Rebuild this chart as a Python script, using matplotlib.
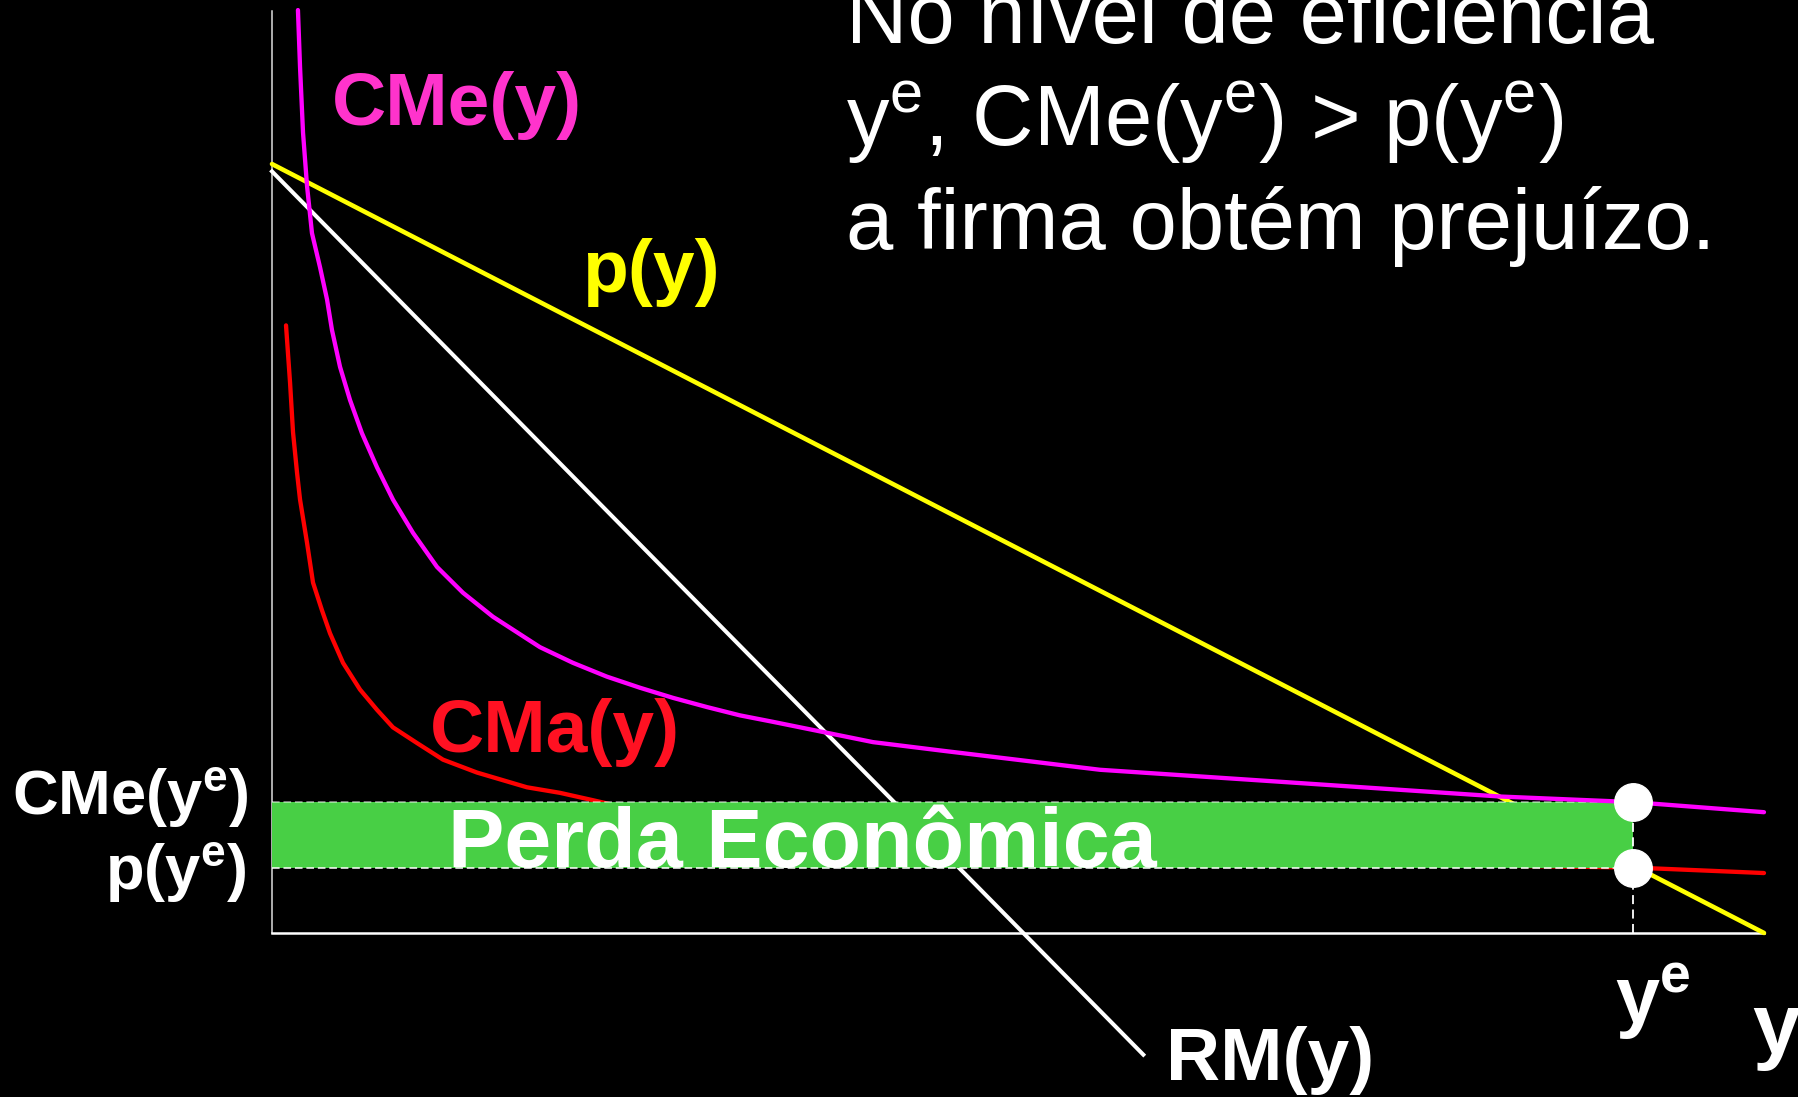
import matplotlib.pyplot as plt

plt.rcParams['font.family'] = ['Liberation Sans', 'DejaVu Sans']
plt.rcParams['mathtext.fontset'] = 'custom'
plt.rcParams['mathtext.rm'] = 'Liberation Sans'
plt.rcParams['mathtext.bf'] = 'Liberation Sans:bold'

# custo medio CMe(y)
cme_x = [1.74, 1.88, 2.08, 2.35, 2.68, 3.22, 3.69, 4.02, 4.56, 5.23, 6.03, 7.04,
         8.11, 9.45, 11.06, 12.8, 14.81, 17.96, 20.17, 22.45, 24.66, 26.88, 29.16,
         31.37, 33.58, 36.93, 40.28, 44.77, 55.5, 68.5, 82.31, 91.15, 100.0]
cme_y = [100.1, 93.9, 86.8, 81.0, 75.9, 72.2, 68.7, 65.4, 61.4, 57.8, 54.2, 50.5,
         47.0, 43.4, 39.7, 36.9, 34.3, 31.0, 29.3, 27.8, 26.6, 25.5, 24.5,
         23.6, 22.9, 21.8, 20.7, 19.8, 17.7, 16.3, 14.8, 14.2, 13.1]

# custo marginal CMa(y)
cma_x = [0.94, 1.21, 1.41, 1.68, 1.88, 2.35, 2.75, 3.35, 3.89, 4.76, 5.9, 7.04,
         8.11, 9.72, 11.46, 13.74, 17.09, 19.3, 21.51, 28.7, 42.1, 55.5, 68.9,
         82.3, 91.2, 100.0]
cma_y = [65.9, 59.7, 54.3, 49.9, 47.0, 42.3, 38.0, 35.0, 32.5, 29.3, 26.4, 24.2,
         22.3, 20.6, 18.8, 17.4, 15.8, 15.2, 14.4, 11.7, 9.5, 8.4, 7.6,
         7.3, 7.1, 6.5]

# demanda p(y) e receita marginal RM(y)
p_x = [0, 100]
p_y = [83.4, 0]
rm_x = [0, 58.4]
rm_y = [82.6, -13.2]

# nivel de eficiencia
y_e = 91.2
cme_ye = 14.2
p_ye = 7.0

fig = plt.figure(figsize=(17.98, 10.97), dpi=100, facecolor='black')
ax = fig.add_axes([0, 0, 1, 1])
ax.set_facecolor('black')
ax.set_xlim(-18.23, 102.28)
ax.set_ylim(-17.79, 101.19)
ax.axis('off')

# eixos
ax.plot([0, 0], [0, 100], color='#DDDDDD', lw=1.1, zorder=1)
ax.plot([0, 100], [0, 0], color='white', lw=1.8, zorder=1)

ax.plot(p_x, p_y, color='#FFFF00', lw=3.3, solid_capstyle='round', zorder=2)
ax.plot(rm_x, rm_y, color='white', lw=2.9, zorder=2)
ax.plot(cma_x, cma_y, color='#FF0000', lw=3.1, solid_capstyle='round',
        solid_joinstyle='round', zorder=2)

# area de perda
ax.fill_between([0, y_e], p_ye, cme_ye, color='#48CF45', lw=0, zorder=3)
ax.plot([0, y_e], [cme_ye, cme_ye], color='white', lw=1.1, ls=(0, (5, 2.5)), alpha=0.6, zorder=4)
ax.plot([0, y_e], [p_ye, p_ye], color='white', lw=1.1, ls=(0, (5, 2.5)), zorder=4)
ax.plot([y_e, y_e], [0, cme_ye], color='white', lw=1.3, ls=(0, (5, 3)), zorder=4)

ax.plot(cme_x, cme_y, color='#FF00FF', lw=3.1, solid_capstyle='round',
        solid_joinstyle='round', zorder=4)

ax.plot([y_e, y_e], [cme_ye, p_ye], 'o', color='white', ms=27, zorder=6)

bold = dict(fontweight='bold', va='baseline', zorder=7)
ax.text(4.0, 87.6, 'CMe(y)', color='#FF33CC', fontsize=54, **bold)
ax.text(20.8, 69.5, 'p(y)', color='#FFFF00', fontsize=54, **bold)
ax.text(10.6, 19.6, 'CMa(y)', color='#FF1122', fontsize=54, **bold)
ax.text(11.8, 7.2, 'Perda Econômica', color='white', fontsize=60.8, **bold)
ax.text(59.9, -15.9, 'RM(y)', color='white', fontsize=54, **bold)
ax.text(90.0, -9.8, r'y$^{\mathbf{e}}$', color='white', fontsize=57, **bold)
ax.text(99.2, -13.0, 'y', color='white', fontsize=62, **bold)
ax.text(-1.6, 12.8, r'CMe(y$^{\mathbf{e}}$)', color='white', fontsize=45.5, ha='right', **bold)
ax.text(-1.7, 4.7, r'p(y$^{\mathbf{e}}$)', color='white', fontsize=45.5, ha='right', **bold)

titulo = ['No nível de eficiência',
          r'y$^{\mathrm{e}}$, CMe(y$^{\mathrm{e}}$) > p(y$^{\mathrm{e}}$)',
          'a firma obtém prejuízo.']
for i, linha in enumerate(titulo):
    fig.text(846 / 1798, 1 - (43 + 103 * i) / 1097, linha, color='white',
             fontsize=61.2, va='baseline', ha='left')

fig.savefig('out.png', dpi=100, facecolor='black')
